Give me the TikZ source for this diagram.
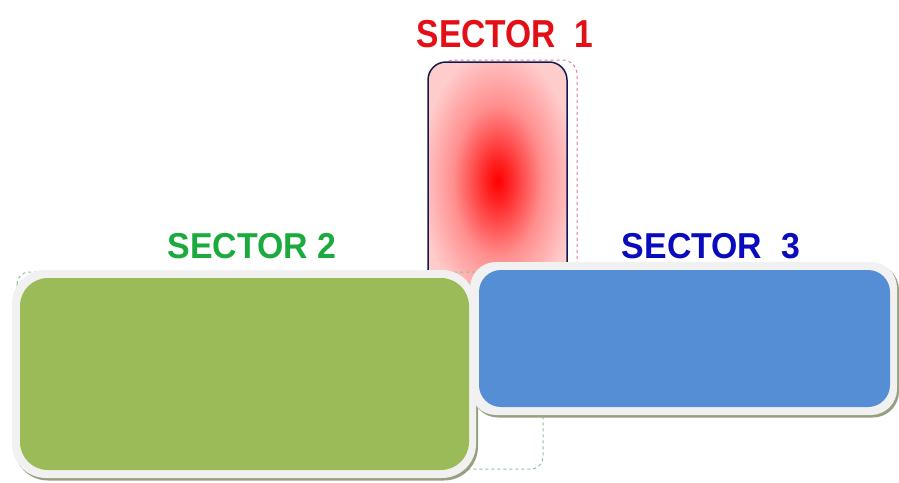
\documentclass[tikz,border=0pt]{standalone}
\usepackage{fontspec}
\setmainfont{Liberation Sans}
\definecolor{secred}{RGB}{228,14,22}
\definecolor{secgreenlbl}{RGB}{28,170,62}
\definecolor{secbluelbl}{RGB}{10,10,190}
\definecolor{secgreen}{RGB}{155,187,89}
\definecolor{secblue}{RGB}{85,142,213}
\definecolor{pinkedge}{RGB}{255,204,204}
\definecolor{navyline}{RGB}{16,26,80}
\definecolor{rimgray}{RGB}{241,241,241}
\definecolor{shadowolive}{RGB}{150,160,128}
\definecolor{dashpink}{RGB}{225,125,140}
\definecolor{dashgreen}{RGB}{140,195,150}
\pgfdeclareradialshading{secglow}{\pgfpoint{0bp}{0bp}}{color(0bp)=(red); color(5bp)=(red!80!pinkedge); color(16bp)=(red!30!pinkedge); color(28bp)=(pinkedge); color(50bp)=(pinkedge)}
\tikzset{
  seclabel/.style={anchor=base, font=\bfseries, inner sep=0pt, transform shape}
}

\begin{document}
\begin{tikzpicture}[x=1pt,y=-1pt]
			\useasboundingbox (0,0) rectangle (899,482);
			%%%%% START %%%%%
			\node[seclabel, text=secred, xscale=0.86, font=\bfseries\fontsize{39}{40}\selectfont] (s1label) at (505, 47) {SECTOR\ \ 1};
			
			\draw[dashed, dashpink, line width=1, rounded corners=14] (440, 60) rectangle (577, 290);
			\shade[shading=secglow, rounded corners=18] (428, 62) rectangle (567, 300);
			\draw[navyline, line width=1.5, rounded corners=18] (428, 300) -- (428, 62) -- (567, 62) -- (567, 300);
			
			\node[seclabel, text=secgreenlbl, xscale=0.94, font=\bfseries\fontsize{36}{38}\selectfont] (s2label) at (252, 258) {SECTOR 2};
			\node[seclabel, text=secbluelbl, xscale=0.94, font=\bfseries\fontsize{36}{38}\selectfont] (s3label) at (711, 258) {SECTOR\ \ 3};
			
			\draw[dashed, dashgreen, line width=1, rounded corners=12] (17, 272) rectangle (543, 469);
			
			\fill[shadowolive, rounded corners=34] (14, 272) rectangle (478, 480.5);
			\fill[rimgray, rounded corners=34] (12, 270) rectangle (476, 478);
			\fill[secgreen, rounded corners=28] (20, 278) rectangle (469, 470);
			
			\fill[shadowolive, rounded corners=26] (472, 264) rectangle (899, 417.5);
			\fill[rimgray, rounded corners=26] (470, 262) rectangle (897, 415);
			\fill[secblue, rounded corners=22] (479, 270) rectangle (890, 407);
			%%%%% END %%%%%
\end{tikzpicture}
\end{document}
